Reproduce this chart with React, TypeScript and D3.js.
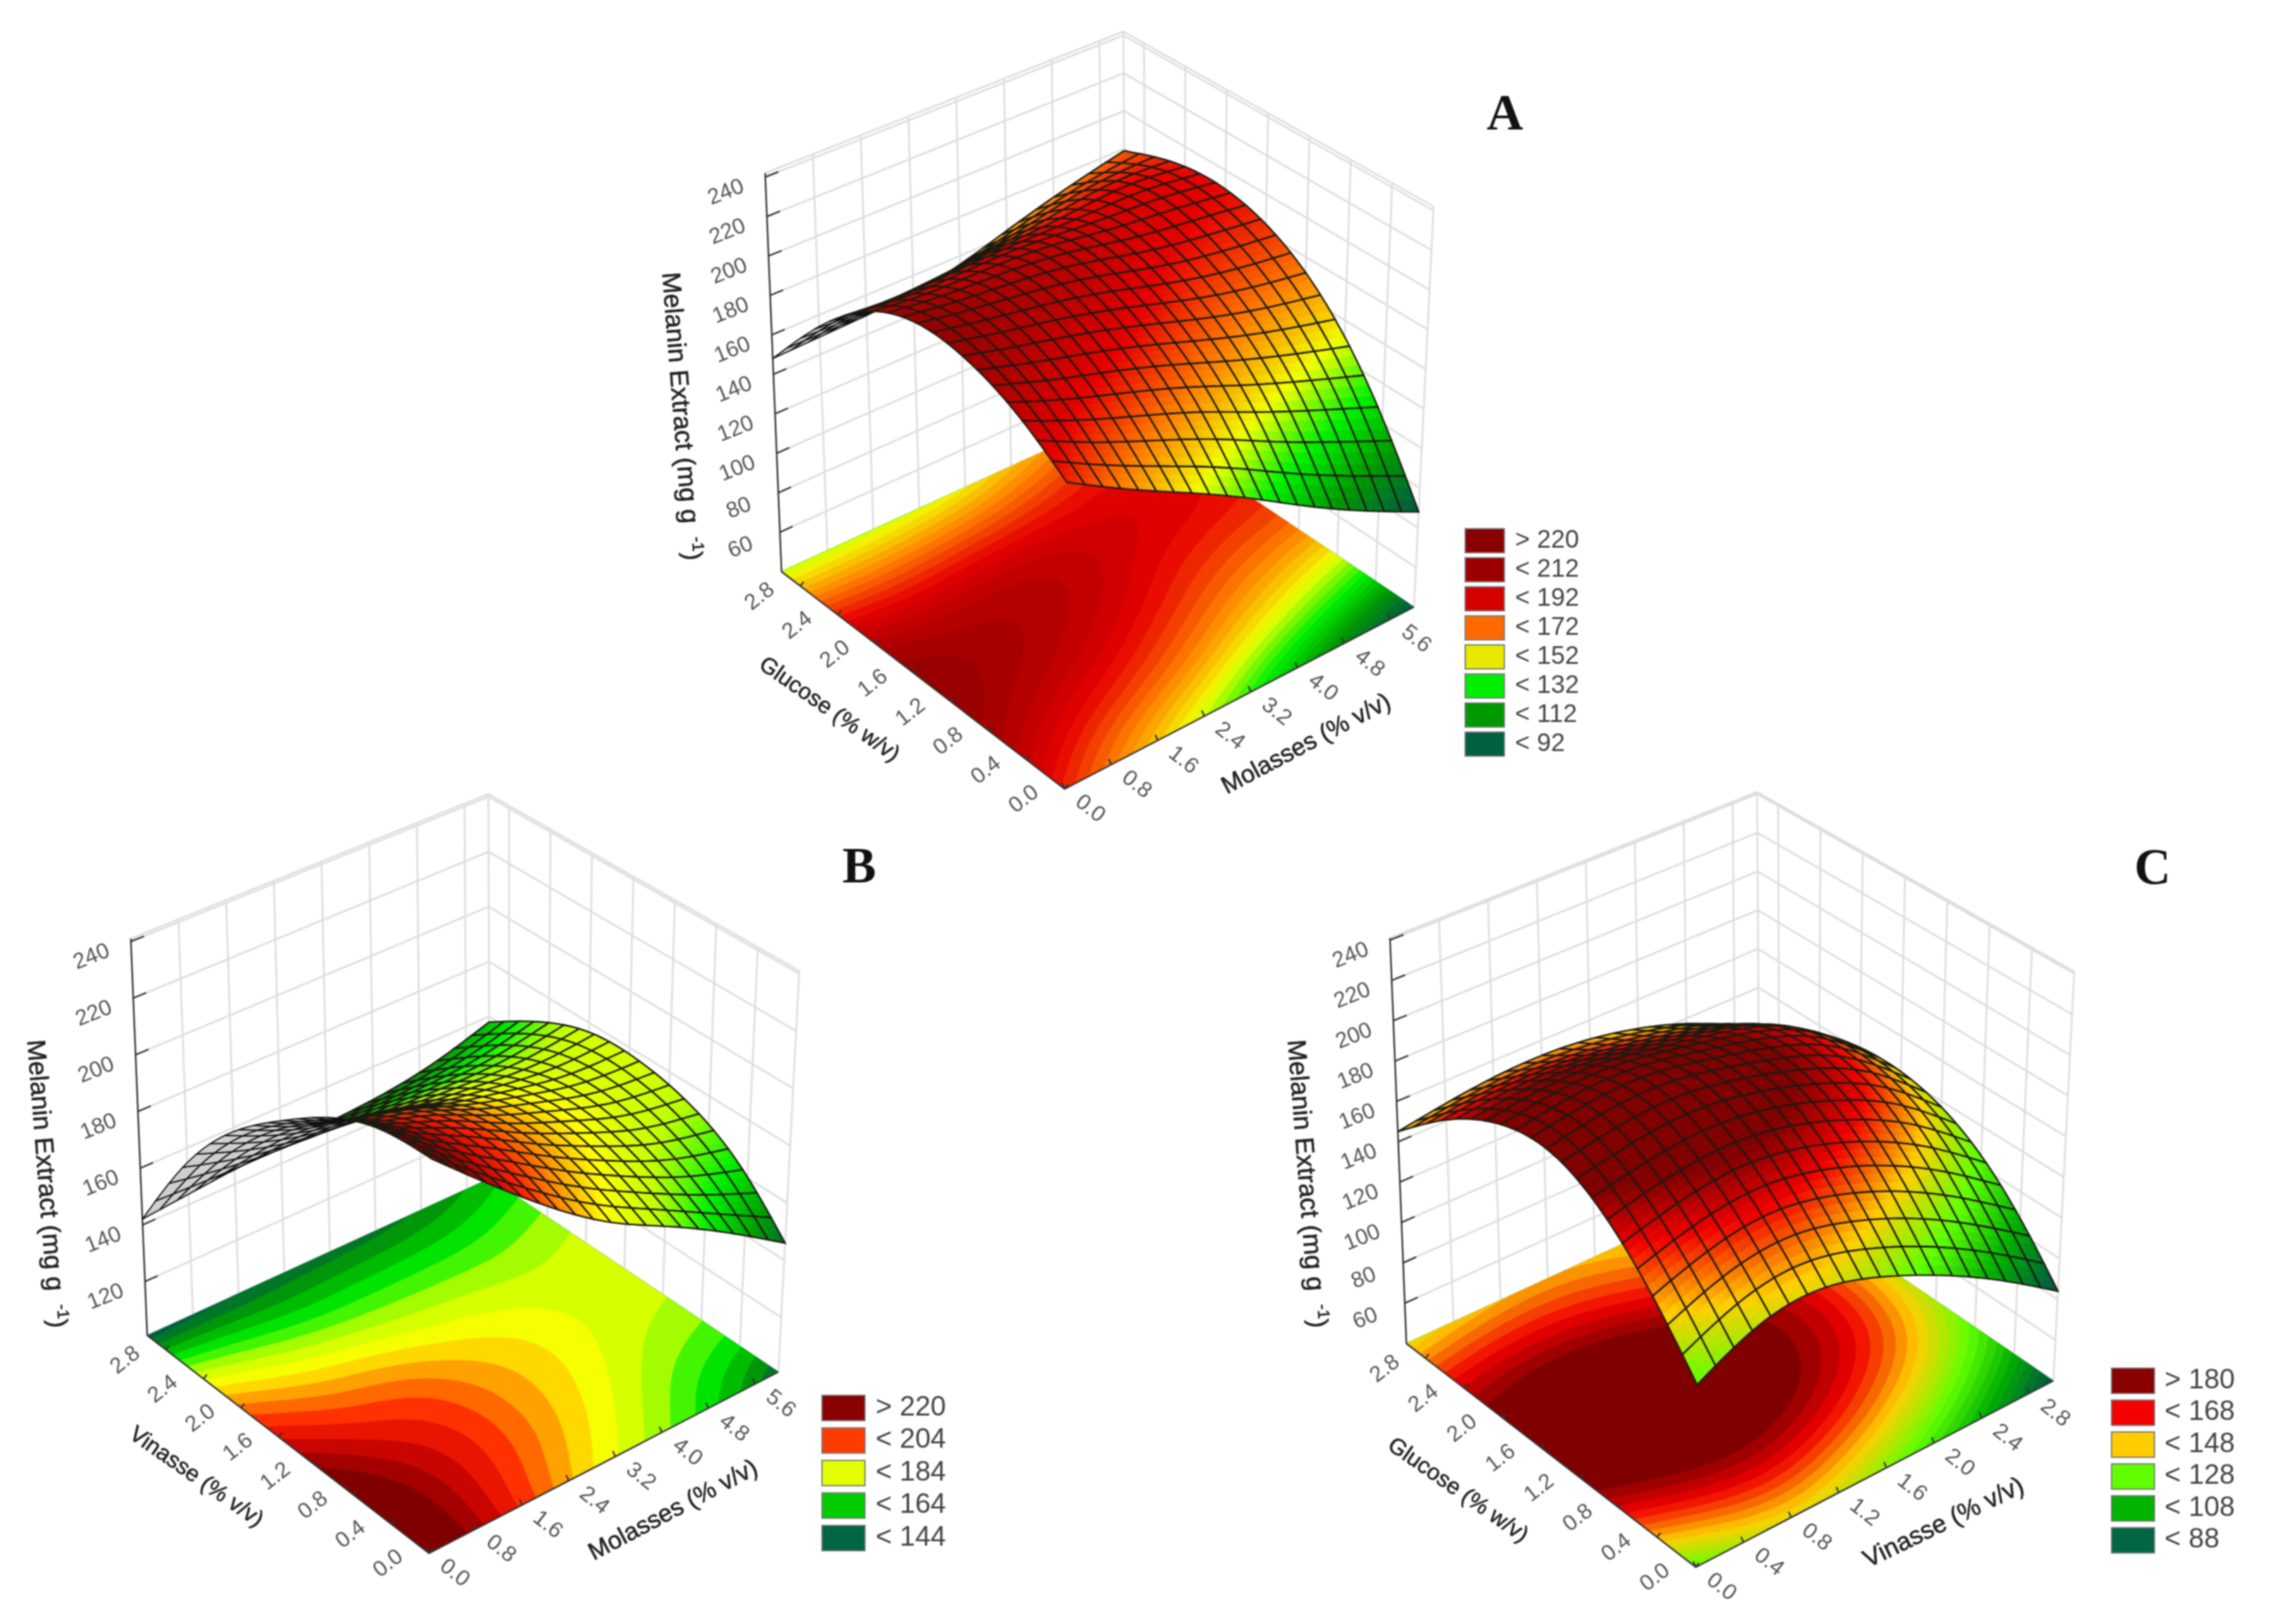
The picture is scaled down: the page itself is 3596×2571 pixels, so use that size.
import React, { useEffect, useRef } from 'react';
import * as d3 from 'd3';

const WIDTH = 3596;
const HEIGHT = 2571;

// tick labels
const doseTicksLong = [0, 0.8, 1.6, 2.4, 3.2, 4.0, 4.8, 5.6];
const doseTicksShort = [0, 0.4, 0.8, 1.2, 1.6, 2.0, 2.4, 2.8];
const meltTicksWide = [60, 80, 100, 120, 140, 160, 180, 200, 220, 240];
const meltTicksNarrow = [120, 140, 160, 180, 200, 220, 240];

// surface values: rows go along the right axis (7 steps over its range),
// columns along the left axis (0, 0.5 ... 3)
const surfaceA = [
  [187, 205, 215, 218, 208, 183, 148],
  [170, 192, 207, 213, 205, 180, 149],
  [155, 182, 200, 209, 207, 182, 150],
  [139, 172, 190, 203, 206, 185, 153],
  [120, 158, 180, 193, 200, 189, 163],
  [103, 146, 171, 187, 197, 195, 172],
  [88, 133, 165, 184, 192, 190, 179],
];
const surfaceB = [
  [232, 232, 225, 212, 198, 176, 142],
  [214, 217, 213, 202, 188, 168, 144],
  [197, 205, 206, 200, 183, 163, 146],
  [182, 192, 194, 191, 178, 164, 147],
  [172, 180, 186, 185, 177, 164, 148],
  [160, 170, 177, 179, 175, 165, 151],
  [146, 165, 174, 178, 178, 170, 158],
];
const surfaceC = [
  [127, 158, 181, 192, 186, 170, 145],
  [143, 168, 187, 198, 191, 173, 150],
  [146, 172, 190, 199, 191, 172, 153],
  [136, 165, 186, 191, 185, 166, 152],
  [122, 153, 175, 183, 180, 160, 146],
  [105, 135, 160, 170, 170, 153, 136],
  [84, 114, 134, 143, 143, 135, 118],
];

// colour levels
const levelsA = [92, 112, 132, 152, 172, 192, 212, 222];
const rampA = ['#00603c', '#009a00', '#00f000', '#f0ff00', '#ff8000', '#e60000', '#a00000', '#800000'];
const levelsB = [144, 154, 164, 174, 184, 194, 204, 214, 222];
const rampB = ['#00603c', '#00a000', '#00f000', '#c0ff00', '#ffff00', '#ff9000', '#ff2000', '#c00000', '#800000'];
const levelsC = [88, 108, 128, 148, 168, 182];
const rampC = ['#00603c', '#00b000', '#60ff00', '#ffd000', '#f00000', '#800000'];

// legends
const legendLabelsA = ['> 220', '< 212', '< 192', '< 172', '< 152', '< 132', '< 112', '< 92'];
const legendColorsA = ['#8a0000', '#9c0000', '#d60000', '#ff6a00', '#e8e800', '#00ee00', '#009a00', '#006040'];
const legendLabelsB = ['> 220', '< 204', '< 184', '< 164', '< 144'];
const legendColorsB = ['#8a0000', '#ff3c00', '#e4ff00', '#00cc00', '#006644'];
const legendLabelsC = ['> 180', '< 168', '< 148', '< 128', '< 108', '< 88'];
const legendColorsC = ['#8a0000', '#f40000', '#ffcc00', '#60ff00', '#00b400', '#006644'];

const CELLS = 20;
const SUB = 3;
const FLOOR_RES = 121;

type Pt = [number, number];

interface Panel {
  letter: string;
  letterAt: Pt;
  grid: number[][];
  levels: number[];
  ramp: string[];
  zTicks: number[];
  zDomain: [number, number];
  xMax: number;
  xTicks: number[];
  yTicks: number[];
  band: number;
  floor: { f: Pt; r: Pt; l: Pt; b: Pt };
  top: { f: Pt; r: Pt; l: Pt; b: Pt };
  zTitle: Pt;
  leftTitle: { text: string; at: Pt; angle: number; size: number };
  rightTitle: { text: string; at: Pt; angle: number; size: number };
  legend: { labels: string[]; colors: string[]; x: number; y: number; step: number; h: number; w: number; textX: number; size: number };
}

const panels: Panel[] = [
  {
    letter: 'A',
    letterAt: [2382, 187],
    grid: surfaceA,
    levels: levelsA,
    ramp: rampA,
    zTicks: meltTicksWide,
    zDomain: [40, 242],
    xMax: 6,
    xTicks: doseTicksLong,
    yTicks: doseTicksShort,
    band: 4,
    floor: { f: [1685, 1249], r: [2238, 961], l: [1237, 905], b: [1782, 655] },
    top: { f: [1690, 582], r: [2269, 327], l: [1211, 274], b: [1778, 50] },
    zTitle: [1066, 660],
    leftTitle: { text: 'Glucose (% w/v)', at: [1312, 1124], angle: 35, size: 36 },
    rightTitle: { text: 'Molasses (% v/v)', at: [2068, 1179], angle: -28, size: 39 },
    legend: { labels: legendLabelsA, colors: legendColorsA, x: 2319, y: 837, step: 46, h: 38, w: 62, textX: 2398, size: 40 },
  },
  {
    letter: 'B',
    letterAt: [1360, 1379],
    grid: surfaceB,
    levels: levelsB,
    ramp: rampB,
    zTicks: meltTicksNarrow,
    zDomain: [101, 241],
    xMax: 6,
    xTicks: doseTicksLong,
    yTicks: doseTicksShort,
    band: 5,
    floor: { f: [679, 2459], r: [1232, 2172], l: [233, 2114], b: [775, 1866] },
    top: { f: [684, 1792], r: [1265, 1537], l: [207, 1486], b: [773, 1257] },
    zTitle: [61, 1875],
    leftTitle: { text: 'Vinasse (% v/v)', at: [310, 2339], angle: 35, size: 36 },
    rightTitle: { text: 'Molasses (% v/v)', at: [1066, 2392], angle: -28, size: 39 },
    legend: { labels: legendLabelsB, colors: legendColorsB, x: 1301, y: 2209, step: 51.5, h: 40, w: 68, textX: 1386, size: 44 },
  },
  {
    letter: 'C',
    letterAt: [3407, 1381],
    grid: surfaceC,
    levels: levelsC,
    ramp: rampC,
    zTicks: meltTicksWide,
    zDomain: [40, 241],
    xMax: 3,
    xTicks: doseTicksShort,
    yTicks: doseTicksShort,
    band: 4,
    floor: { f: [2684, 2481], r: [3250, 2186], l: [2226, 2127], b: [2785, 1870] },
    top: { f: [2689, 1814], r: [3283, 1538], l: [2200, 1485], b: [2781, 1254] },
    zTitle: [2056, 1875],
    leftTitle: { text: 'Glucose (% w/v)', at: [2307, 2360], angle: 35, size: 36 },
    rightTitle: { text: 'Vinasse (% v/v)', at: [3077, 2412], angle: -26, size: 40 },
    legend: { labels: legendLabelsC, colors: legendColorsC, x: 3342, y: 2166, step: 50.5, h: 40, w: 68, textX: 3426, size: 44 },
  },
];

const bilinear = (c: { f: Pt; r: Pt; l: Pt; b: Pt }, u: number, v: number): Pt => [
  c.f[0] * (1 - u) * (1 - v) + c.r[0] * u * (1 - v) + c.l[0] * (1 - u) * v + c.b[0] * u * v,
  c.f[1] * (1 - u) * (1 - v) + c.r[1] * u * (1 - v) + c.l[1] * (1 - u) * v + c.b[1] * u * v,
];

const drawPanel = (root: any, p: Panel) => {
  const g = root.append('g');
  const xScale = d3.scaleLinear().domain([0, p.xMax]).range([0, 1]);
  const yScale = d3.scaleLinear().domain([0, 3]).range([0, 1]);
  const zScale = d3.scaleLinear().domain(p.zDomain).range([0, 1]);
  const color = d3.scaleLinear<string>().domain(p.levels).range(p.ramp).clamp(true);
  const fmt = d3.format('.1f');

  const project = (x: number, y: number, z: number): Pt => {
    const u = xScale(x);
    const v = yScale(y);
    const w = zScale(z);
    const lo = bilinear(p.floor, u, v);
    const hi = bilinear(p.top, u, v);
    return [lo[0] + (hi[0] - lo[0]) * w, lo[1] + (hi[1] - lo[1]) * w];
  };

  const rows = p.grid.map((r) => d3.interpolateBasis(r));
  const sample = (x: number, y: number) =>
    d3.interpolateBasis(rows.map((f) => f(y / 3)))(x / p.xMax);

  const line = d3.line();
  const [zLo, zHi] = p.zDomain;

  // walls
  const wall = g.append('g').attr('stroke', '#dedede').attr('stroke-width', 3).attr('fill', 'none');
  const wallZ = [...p.zTicks, zHi, zLo];
  wallZ.forEach((z) => {
    wall.append('path').attr('d', line([project(0, 3, z), project(p.xMax, 3, z), project(p.xMax, 0, z)]));
  });
  [...p.xTicks, p.xMax].forEach((x) => {
    wall.append('path').attr('d', line([project(x, 3, zLo), project(x, 3, zHi)]));
  });
  [...p.yTicks].forEach((y) => {
    wall.append('path').attr('d', line([project(p.xMax, y, zLo), project(p.xMax, y, zHi)]));
  });

  // floor contours
  const values = new Array(FLOOR_RES * FLOOR_RES);
  for (let j = 0; j < FLOOR_RES; j++) {
    for (let i = 0; i < FLOOR_RES; i++) {
      values[i + j * FLOOR_RES] = sample((i / (FLOOR_RES - 1)) * p.xMax, (j / (FLOOR_RES - 1)) * 3);
    }
  }
  const lo = d3.min(values) as number;
  const hi = d3.max(values) as number;
  const thresholds = d3.range(Math.floor(lo / p.band) * p.band, hi + p.band, p.band);
  const clamp01 = (t: number) => Math.max(0, Math.min(1, t));
  const floorProjection = d3.geoTransform({
    point(this: any, px: number, py: number) {
      const fp = project(clamp01((px - 0.5) / (FLOOR_RES - 1)) * p.xMax, clamp01((py - 0.5) / (FLOOR_RES - 1)) * 3, zLo);
      this.stream.point(fp[0], fp[1]);
    },
  });
  const floorPath = d3.geoPath(floorProjection);
  const contours = d3.contours().size([FLOOR_RES, FLOOR_RES]).thresholds(thresholds)(values);
  g.append('g')
    .selectAll('path')
    .data(contours)
    .join('path')
    .attr('d', (d: any) => floorPath(d))
    .attr('fill', (d: any) => color(d.value + p.band / 2))
    .attr('stroke', (d: any) => color(d.value + p.band / 2))
    .attr('stroke-width', 0.6);

  // axes
  const axes = g.append('g').attr('stroke', '#333').attr('fill', 'none').attr('stroke-width', 2.5);
  axes.append('path').attr('d', line([project(0, 3, zHi), project(0, 3, zLo), project(0, 0, zLo), project(p.xMax, 0, zLo)]));
  const labels = g.append('g').attr('font-family', '"Liberation Sans", Arial, sans-serif').attr('fill', '#555').attr('font-size', 35);
  const tickLabel = (at: Pt, dx: number, dy: number, angle: number, text: string) =>
    labels
      .append('text')
      .attr('transform', `translate(${at[0] + dx},${at[1] + dy}) rotate(${angle})`)
      .attr('text-anchor', 'middle')
      .attr('dominant-baseline', 'middle')
      .text(text);

  p.zTicks.forEach((z) => {
    const a = project(0, 3, z);
    const b = project(0.22 * (p.xMax / 6), 3, z);
    axes.append('path').attr('d', line([a, b]));
    tickLabel(a, -62, 25, -22, String(z));
  });
  p.xTicks.forEach((x) => {
    const a = project(x, 0, zLo);
    axes.append('path').attr('d', line([a, [a[0] - 4, a[1] - 9]]));
    tickLabel(a, 40, 32, 38, fmt(x));
  });
  p.yTicks.forEach((y) => {
    const a = project(0, y, zLo);
    axes.append('path').attr('d', line([a, [a[0] + 5, a[1] - 7]]));
    tickLabel(a, -64, 17, -38, fmt(y));
  });

  // titles
  const titles = g.append('g').attr('font-family', '"Liberation Sans", Arial, sans-serif').attr('fill', '#222').attr('stroke', '#222').attr('stroke-width', 0.7).attr('text-anchor', 'middle');
  const zt = titles
    .append('text')
    .attr('transform', `translate(${p.zTitle[0]},${p.zTitle[1]}) rotate(85.5)`)
    .attr('font-size', 41)
    .text('Melanin Extract (mg g');
  zt.append('tspan').attr('dx', 22).attr('dy', -14).attr('font-size', 26).text('-1');
  zt.append('tspan').attr('dy', 14).text(')');
  [p.leftTitle, p.rightTitle].forEach((t) => {
    titles
      .append('text')
      .attr('transform', `translate(${t.at[0]},${t.at[1]}) rotate(${t.angle})`)
      .attr('dominant-baseline', 'middle')
      .attr('font-size', t.size)
      .text(t.text);
  });

  // surface, painted from the far corner to the near one
  const N = CELLS * SUB;
  const nodes: { pos: Pt; z: number }[][] = [];
  for (let i = 0; i <= N; i++) {
    const row: { pos: Pt; z: number }[] = [];
    for (let j = 0; j <= N; j++) {
      const x = (i / N) * p.xMax;
      const y = (j / N) * 3;
      const z = sample(x, y);
      row.push({ pos: project(x, y, z), z });
    }
    nodes.push(row);
  }
  const surf = g.append('g');
  const quadPath = (a: Pt, b: Pt, c: Pt, d: Pt) => line([a, b, c, d]) + 'Z';
  for (let ci = CELLS - 1; ci >= 0; ci--) {
    for (let cj = CELLS - 1; cj >= 0; cj--) {
      const i0 = ci * SUB;
      const j0 = cj * SUB;
      const outline: Pt[] = [];
      for (let k = 0; k <= SUB; k++) outline.push(nodes[i0 + k][j0].pos);
      for (let k = 1; k <= SUB; k++) outline.push(nodes[i0 + SUB][j0 + k].pos);
      for (let k = SUB - 1; k >= 0; k--) outline.push(nodes[i0 + k][j0 + SUB].pos);
      for (let k = SUB - 1; k >= 1; k--) outline.push(nodes[i0][j0 + k].pos);
      // cells whose winding flips show their underside
      const under = d3.polygonArea(outline) < 0;
      if (under) {
        surf.append('path').attr('d', line(outline) + 'Z').attr('fill', '#cfcfcf').attr('stroke', '#111').attr('stroke-width', 2);
        continue;
      }
      for (let a = SUB - 1; a >= 0; a--) {
        for (let b = SUB - 1; b >= 0; b--) {
          const n00 = nodes[i0 + a][j0 + b];
          const n10 = nodes[i0 + a + 1][j0 + b];
          const n11 = nodes[i0 + a + 1][j0 + b + 1];
          const n01 = nodes[i0 + a][j0 + b + 1];
          const c = color((n00.z + n10.z + n11.z + n01.z) / 4);
          surf.append('path').attr('d', quadPath(n00.pos, n10.pos, n11.pos, n01.pos)).attr('fill', c).attr('stroke', c).attr('stroke-width', 0.8);
        }
      }
      surf.append('path').attr('d', line(outline) + 'Z').attr('fill', 'none').attr('stroke', '#1c1a10').attr('stroke-width', 2.6);
    }
  }

  // legend
  const lg = g.append('g').attr('font-family', '"Liberation Sans", Arial, sans-serif').attr('font-size', p.legend.size).attr('fill', '#444');
  p.legend.labels.forEach((label, i) => {
    const y = p.legend.y + i * p.legend.step;
    lg.append('rect').attr('x', p.legend.x).attr('y', y).attr('width', p.legend.w).attr('height', p.legend.h).attr('fill', p.legend.colors[i]).attr('stroke', '#777').attr('stroke-width', 2);
    lg.append('text').attr('x', p.legend.textX).attr('y', y + p.legend.h / 2).attr('dominant-baseline', 'middle').text(label);
  });

  g.append('text')
    .attr('x', p.letterAt[0])
    .attr('y', p.letterAt[1])
    .attr('text-anchor', 'middle')
    .attr('dominant-baseline', 'middle')
    .attr('font-family', '"Liberation Serif", "Times New Roman", serif')
    .attr('font-weight', 'bold')
    .attr('font-size', 80)
    .attr('fill', '#111')
    .text(p.letter);
};

const App = () => {
  const svgRef = useRef<SVGSVGElement | null>(null);

  useEffect(() => {
    const svg = d3.select(svgRef.current);
    svg.selectAll('*').remove();
    svg.append('rect').attr('width', WIDTH).attr('height', HEIGHT).attr('fill', 'white');
    panels.forEach((p) => drawPanel(svg, p));
  }, []);

  return (
    <svg
      ref={svgRef}
      width={WIDTH}
      height={HEIGHT}
      viewBox={`0 0 ${WIDTH} ${HEIGHT}`}
      style={{ position: 'absolute', left: 0, top: 0, filter: 'blur(1.2px)' }}
    />
  );
};

export default App;
